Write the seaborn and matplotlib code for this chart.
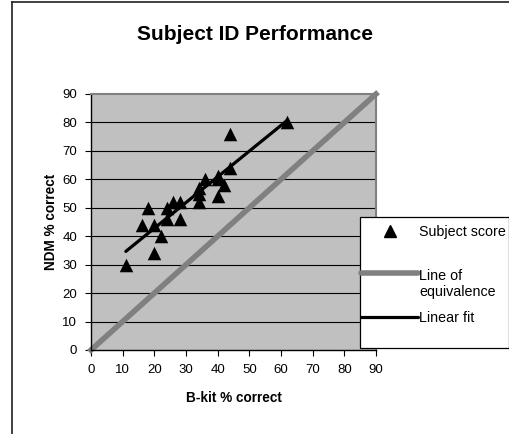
import matplotlib
matplotlib.use("Agg")
import matplotlib.pyplot as plt
import matplotlib.patches as mpatches
from matplotlib.lines import Line2D
from matplotlib.legend_handler import HandlerLine2D
import seaborn as sns
import pandas as pd
import numpy as np

plt.rcParams['font.family'] = ['Liberation Sans', 'DejaVu Sans']

# Data
bkit = [11, 16, 18, 20, 20, 22, 24, 24, 26, 28, 28, 34, 34, 34, 36, 40, 40, 40, 42, 44, 44, 62]
ndm = [30, 44, 50, 34, 44, 40, 50, 46, 52, 52, 46, 52, 57, 55, 60, 54, 60, 61, 58, 64, 76, 80]
equiv_x = [0, 90]
equiv_y = [0, 90]
ticks = list(range(0, 100, 10))
legend_labels = ["Subject score", "Line of\nequivalence", "Linear fit"]

df = pd.DataFrame({"B-kit % correct": bkit, "NDM % correct": ndm})
eq = pd.DataFrame({"x": equiv_x, "y": equiv_y})

W, H = 510, 434
fig = plt.figure(figsize=(W / 100, H / 100), dpi=100)
ax = fig.add_axes([91 / W, 1 - 350 / H, (376 - 91) / W, (350 - 94) / H])
ax.set_facecolor('#c0c0c0')

# gridlines
for t in ticks[1:-1]:
    ax.axhline(t, color='black', lw=0.8, zorder=1)

sns.lineplot(data=eq, x="x", y="y", ax=ax, color='#808080', lw=4, zorder=2,
             clip_on=False, legend=False)
sns.regplot(data=df, x="B-kit % correct", y="NDM % correct", ax=ax, scatter=False,
            ci=None, color='black', line_kws=dict(lw=2.3, zorder=3, solid_capstyle='round'))
sns.scatterplot(data=df, x="B-kit % correct", y="NDM % correct", ax=ax, marker='^',
                s=95, color='black', edgecolor='black', linewidth=0, zorder=4,
                legend=False)

ax.set_xlim(0, 90)
ax.set_ylim(0, 90)
ax.set_xticks(ticks)
ax.set_yticks(ticks)
ax.tick_params(axis='both', direction='out', length=4, width=0.8, labelsize=9.5,
               colors='black', pad=6)
for s in ['left', 'bottom']:
    ax.spines[s].set_color('black')
    ax.spines[s].set_linewidth(1)
for s in ['top', 'right']:
    ax.spines[s].set_color('#808080')
    ax.spines[s].set_linewidth(1.5)

ax.set_xlabel("B-kit % correct", fontsize=9.8, fontweight='bold', labelpad=11)
ax.set_ylabel("NDM % correct", fontsize=9.8, fontweight='bold', labelpad=3)

fig.text(255 / W, 1 - 35 / H, "Subject ID Performance", ha='center', va='center',
         fontsize=15, fontweight='bold')

# outer chart frame (left and top edges visible)
fig.add_artist(Line2D([12 / W, 12 / W], [0, 1 - 1.5 / H], transform=fig.transFigure,
                      color='#202020', lw=1.2))
fig.add_artist(Line2D([12 / W, 1], [1 - 1.5 / H, 1 - 1.5 / H], transform=fig.transFigure,
                      color='#202020', lw=1.2))

# legend box
x0, x1, y0, y1 = 360 / W, 508.5 / W, 1 - 348 / H, 1 - 217 / H
bg = mpatches.Rectangle((x0, y0), x1 - x0, y1 - y0, transform=fig.transFigure,
                        facecolor='white', edgecolor='black', linewidth=0.9, zorder=5)
fig.add_artist(bg)


class ShiftedLine(HandlerLine2D):
    def __init__(self, shift, **kw):
        super().__init__(**kw)
        self.shift = shift

    def create_artists(self, *args, **kwargs):
        arts = super().create_artists(*args, **kwargs)
        for a in arts:
            a.set_ydata(np.asarray(a.get_ydata()) + self.shift)
        return arts


hs = [Line2D([], [], marker='^', color='black', ls='none', markersize=8.5),
      Line2D([], [], color='#808080', lw=4, solid_capstyle='round'),
      Line2D([], [], color='black', lw=2.3, solid_capstyle='round')]
centers = [232, 284, 318]
for h, lab, yc in zip(hs, legend_labels, centers):
    hm = {h: ShiftedLine(8.5)} if "\n" in lab else None
    leg = fig.legend([h], [lab], loc='center left', bbox_to_anchor=(361 / W, 1 - yc / H),
                     frameon=False, fontsize=10.3, handlelength=4.0, handletextpad=0.05,
                     borderaxespad=0, borderpad=0, handler_map=hm)
    leg.set_zorder(6)

fig.savefig("out.png", dpi=100)
